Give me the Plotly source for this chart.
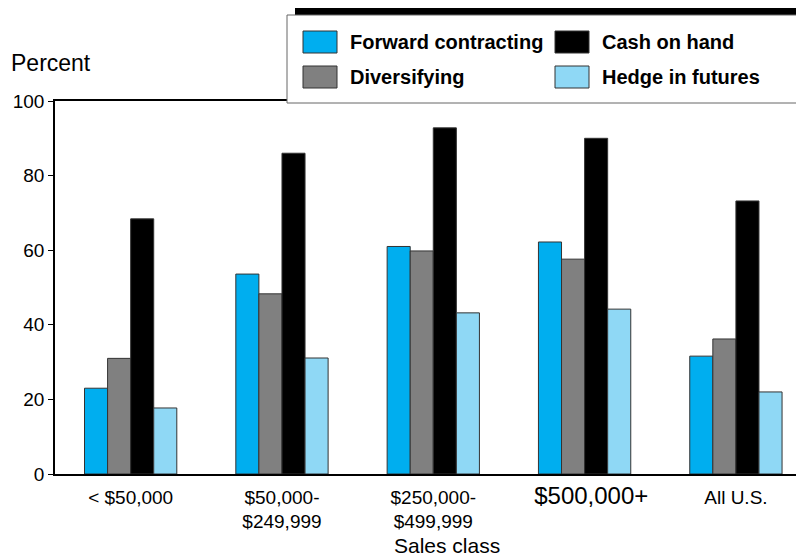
import plotly.graph_objects as go

categories = ["< $50,000", "$50,000-<br>$249,999", "$250,000-<br>$499,999",
              "<span style='font-size:24px'>&nbsp;&nbsp;$500,000+</span>", "All U.S."]
series_names = ["Forward contracting", "Diversifying", "Cash on hand", "Hedge in futures"]
forward = [23.0, 53.6, 61.0, 62.2, 31.6]
diversifying = [31.0, 48.3, 59.8, 57.6, 36.2]
cash = [68.4, 86.0, 92.8, 90.0, 73.2]
hedge = [17.7, 31.1, 43.2, 44.2, 22.0]
colors = ["#00AEEF", "#808080", "#000000", "#8FD8F5"]
y_ticks = [0, 20, 40, 60, 80, 100]

# page body has an 8px margin; figure is sized so that it fills the window
OFF = 8
W, H = 804 - OFF, 558 - OFF
# plot area in window pixels
PX0, PX1, PY0, PY1 = 55, 804, 101, 474
L, R, T, B = PX0 - OFF, 0, PY0 - OFF, H - (PY1 - OFF)

def px(x):
    return (x - PX0) / (PX1 - PX0)

def py(y):
    return (PY1 - y) / (PY1 - PY0)

fig = go.Figure()
xs = list(range(len(categories)))
for name, vals, col in zip(series_names, [forward, diversifying, cash, hedge], colors):
    fig.add_trace(go.Bar(x=xs, y=vals, name=name,
                         marker=dict(color=col, line=dict(color="#333333", width=1)),
                         showlegend=False))

font = "Liberation Sans, Arial, sans-serif"
fig.update_layout(
    width=W, height=H,
    margin=dict(l=L, r=R, t=T, b=B, pad=0),
    paper_bgcolor="white", plot_bgcolor="white",
    barmode="group", bargap=0.39, bargroupgap=0,
    font=dict(family=font, size=19, color="black"),
    xaxis=dict(range=[-0.5, 4.45], tickvals=xs, ticktext=categories, showline=True, linecolor="black",
               linewidth=1.5, mirror=True, ticks="outside", ticklen=5, tickcolor="rgba(0,0,0,0)",
               showgrid=False, zeroline=False, tickfont=dict(size=19)),
    yaxis=dict(range=[0, 100], tickvals=y_ticks, showline=True, linecolor="black", linewidth=1.5,
               ticks="outside", ticklen=5, tickcolor="black", showgrid=False, zeroline=False,
               tickfont=dict(size=19)),
)

shapes = []
annotations = []
# legend box with black top bar
shapes.append(dict(type="rect", xref="paper", yref="paper", x0=px(295), x1=px(810), y0=py(15), y1=py(7),
                   fillcolor="black", line=dict(width=0), layer="above"))
shapes.append(dict(type="rect", xref="paper", yref="paper", x0=px(287), x1=px(815), y0=py(103), y1=py(15),
                   fillcolor="white", line=dict(color="#666666", width=1), layer="above"))
pos = {0: (303, 31), 2: (555, 31), 1: (303, 66), 3: (555, 66)}
for i in range(4):
    sx, sy = pos[i]
    shapes.append(dict(type="rect", xref="paper", yref="paper", x0=px(sx), x1=px(sx + 34), y0=py(sy + 22),
                       y1=py(sy), fillcolor=colors[i], line=dict(color="#333333", width=1), layer="above"))
    annotations.append(dict(xref="paper", yref="paper", x=px(sx + 45), y=py(sy + 11), xanchor="left",
                            yanchor="middle", text="<b>" + series_names[i] + "</b>", showarrow=False,
                            font=dict(size=20, family=font)))
annotations.append(dict(xref="paper", yref="paper", x=px(9), y=py(63), xanchor="left", yanchor="middle",
                        text="Percent", showarrow=False, font=dict(size=23, family=font)))
annotations.append(dict(xref="paper", yref="paper", x=px(447), y=py(545), xanchor="center", yanchor="middle",
                        text="Sales class", showarrow=False, font=dict(size=21, family=font)))
fig.update_layout(shapes=shapes, annotations=annotations)
fig.write_html("out.html")
